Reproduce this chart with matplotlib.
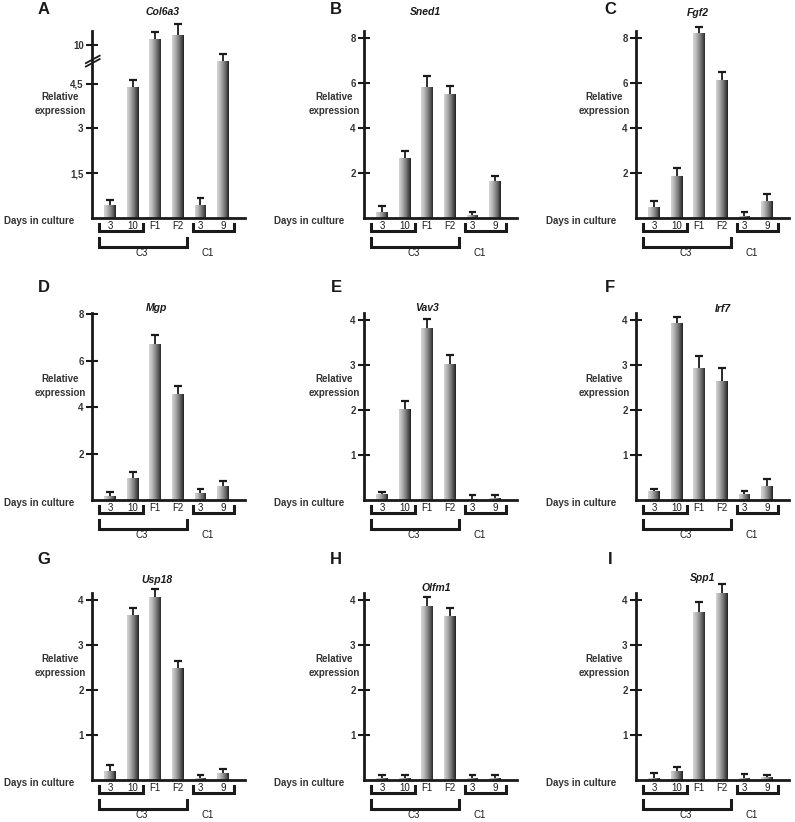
import numpy as np
import matplotlib
matplotlib.use('Agg')
import matplotlib.pyplot as plt

plt.rcParams['font.family'] = ['Liberation Sans', 'DejaVu Sans']

# data (relative expression, bar value and upper error)
genes = ['Col6a3', 'Sned1', 'Fgf2', 'Mgp', 'Vav3', 'Irf7', 'Usp18', 'Olfm1', 'Spp1']
letters = ['A', 'B', 'C', 'D', 'E', 'F', 'G', 'H', 'I']
days = ['3', '10', 'F1', 'F2', '3', '9']

col6a3 = [0.43, 4.40, 10.77, 11.30, 0.43, 8.0]
col6a3_err = [0.17, 0.23, 0.95, 1.34, 0.24, 0.9]
sned1 = [0.25, 2.68, 5.83, 5.49, 0.12, 1.65]
sned1_err = [0.30, 0.30, 0.47, 0.39, 0.15, 0.22]
fgf2 = [0.51, 1.87, 8.22, 6.13, 0.10, 0.76]
fgf2_err = [0.23, 0.37, 0.27, 0.37, 0.15, 0.30]
mgp = [0.19, 0.95, 6.70, 4.55, 0.30, 0.59]
mgp_err = [0.17, 0.27, 0.39, 0.35, 0.17, 0.21]
vav3 = [0.13, 2.02, 3.82, 3.01, 0.03, 0.05]
vav3_err = [0.05, 0.18, 0.20, 0.20, 0.07, 0.05]
irf7 = [0.21, 3.93, 2.93, 2.65, 0.13, 0.31]
irf7_err = [0.03, 0.14, 0.27, 0.28, 0.06, 0.15]
usp18 = [0.20, 3.66, 4.06, 2.48, 0.04, 0.16]
usp18_err = [0.13, 0.15, 0.17, 0.17, 0.07, 0.09]
olfm1 = [0.04, 0.04, 3.86, 3.65, 0.04, 0.04]
olfm1_err = [0.06, 0.07, 0.21, 0.16, 0.06, 0.07]
spp1 = [0.04, 0.19, 3.72, 4.15, 0.04, 0.06]
spp1_err = [0.11, 0.10, 0.24, 0.19, 0.09, 0.05]

vals = [col6a3, sned1, fgf2, mgp, vav3, irf7, usp18, olfm1, spp1]
errs = [col6a3_err, sned1_err, fgf2_err, mgp_err, vav3_err, irf7_err,
        usp18_err, olfm1_err, spp1_err]

yticks = [[1.5, 3, 4.5, 10], [2, 4, 6, 8], [2, 4, 6, 8], [2, 4, 6, 8],
          [1, 2, 3, 4], [1, 2, 3, 4], [1, 2, 3, 4], [1, 2, 3, 4], [1, 2, 3, 4]]
ytop = [11.8, 8.3, 8.3, 8.05, 4.15, 4.15, 4.15, 4.15, 4.15]

# broken axis for Col6a3
L, U, GAP, S = 5.2, 8.0, 0.05, 0.267


def fwd(v):
    v = np.asarray(v, dtype=float)
    return np.where(v <= L, v, np.where(v < U, L + (v - L) * GAP / (U - L),
                                        L + GAP + (v - U) * S))


def inv(p):
    p = np.asarray(p, dtype=float)
    return np.where(p <= L, p, np.where(p < L + GAP, L + (p - L) * (U - L) / GAP,
                                        U + (p - L - GAP) / S))


W, H = 795, 822
fig = plt.figure(figsize=(W / 100, H / 100), dpi=100)
ink = '#1a1a1a'

col_left = [92, 364, 636]
row_base = [218, 500, 780]
ax_w, ax_h = 153, 187

letter_x = [44, 336, 610]
letter_y = [9, 288, 560]
title_pos = [(163, 12), (425, 12), (698, 13), (157, 308), (427, 308), (723, 309),
             (157, 580), (436, 588), (703, 578)]
rel_x = [60, 334, 604]
days_x = [4, 274, 546]

x = np.arange(6)
bw = 0.52
nslice = 24
shades = 0.82 - 0.66 * np.linspace(0, 1, nslice) ** 1.3

for i in range(9):
    r, c = divmod(i, 3)
    base = row_base[r]
    ax = fig.add_axes([col_left[c] / W, 1 - base / H, ax_w / W, ax_h / H])
    if i == 0:
        ax.set_yscale('function', functions=(fwd, inv))
    v = np.array(vals[i])
    e = np.array(errs[i])

    # gradient bars, built from thin slices
    for k in range(nslice):
        g = shades[k]
        ax.bar(x - bw / 2 + k * bw / nslice, v, width=bw / nslice * 1.05,
               align='edge', color=(g, g, g), linewidth=0, zorder=2)
    ax.vlines(x, v, v + e, color=ink, lw=1.3, zorder=3, clip_on=False)
    ax.hlines(v + e, x - 0.17, x + 0.17, color=ink, lw=1.6, zorder=3, clip_on=False)

    ax.set_xlim(-0.8, 5.97)
    ax.set_ylim(0, ytop[i])
    for s in ['top', 'right']:
        ax.spines[s].set_visible(False)
    for s in ['left', 'bottom']:
        ax.spines[s].set_linewidth(2.0)
        ax.spines[s].set_color(ink)
    ax.set_xticks([])
    ax.set_yticks(yticks[i])
    ax.yaxis.set_minor_locator(matplotlib.ticker.NullLocator())
    if i == 0:
        ax.set_yticklabels(['1,5', '3', '4,5', '10'])
    else:
        ax.set_yticklabels([str(t) for t in yticks[i]])
    ax.tick_params(axis='y', direction='inout', length=8, width=1.5, color=ink,
                   labelsize=7, labelcolor='#333333', pad=2)
    for t in ax.get_yticklabels():
        t.set_fontweight('bold')

    if i == 0:
        # break marks on the y axis
        for d in [0, 0.018]:
            ax.plot([-0.04, 0.05], [0.81 + d, 0.85 + d], transform=ax.transAxes,
                    color=ink, lw=1.3, clip_on=False)

    tr = ax.get_xaxis_transform()

    def dy(p):
        return -p / ax_h

    for xi, lab in zip(x, days):
        ax.text(xi, dy(8), lab, transform=tr, ha='center', va='center',
                fontsize=7, color=ink)
    # brackets
    for x0, x1, top, bot in [(-0.49, 1.46, 6, 13), (3.67, 5.49, 6, 13),
                             (-0.49, 3.4, 20, 29)]:
        ax.plot([x0, x0, x1, x1], [dy(top), dy(bot), dy(bot), dy(top)],
                transform=tr, color=ink, lw=2.2, clip_on=False,
                solid_joinstyle='miter')
    ax.text(1.4, dy(35), 'C3', transform=tr, ha='center', va='center',
            fontsize=7, color=ink)
    ax.text(4.3, dy(35), 'C1', transform=tr, ha='center', va='center',
            fontsize=7, color=ink)

    fig.text(letter_x[c] / W, 1 - letter_y[r] / H, letters[i], fontsize=12,
             fontweight='bold', ha='center', va='center', color=ink)
    tx, ty = title_pos[i]
    fig.text(tx / W, 1 - ty / H, genes[i], fontsize=7.5, fontweight='bold',
             fontstyle='italic', ha='center', va='center', color=ink)
    fig.text(rel_x[c] / W, 1 - (base - 114) / H, 'Relative\nexpression',
             fontsize=7, fontweight='bold', ha='center', va='center',
             color='#333333', linespacing=1.4)
    fig.text(days_x[c] / W, 1 - (base + 3) / H, 'Days in culture', fontsize=7,
             fontweight='bold', ha='left', va='center', color='#333333')

fig.savefig('out.png', dpi=100)
